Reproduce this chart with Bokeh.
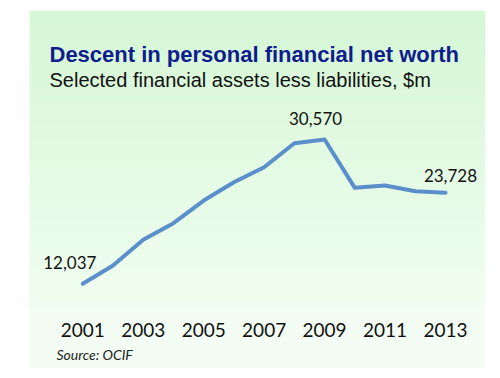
import numpy as np
from bokeh.plotting import figure
from bokeh.models import Range1d, FixedTicker, Label, Title, ColumnDataSource
from bokeh.core.properties import value
from bokeh.embed import file_html
from bokeh.resources import INLINE

# ---- data ----
years = [2001, 2002, 2003, 2004, 2005, 2006, 2007, 2008, 2009, 2010, 2011, 2012, 2013]
net_worth = [12037, 14390, 17690, 19820, 22730, 25080, 27010, 30090, 30570, 24360, 24660, 23930, 23728]
tick_years = [2001, 2003, 2005, 2007, 2009, 2011, 2013]
label_years = [2001, 2009, 2013]
label_values = [12037, 30570, 23728]
title_text = "Descent in personal financial net worth"
subtitle_text = "Selected financial assets less liabilities, $m"
source_text = "Source: OCIF"

# ---- layout ----
W, H = 456, 358
FRAME_H = 300
x_start, x_end = 1999.237, 2014.324
y_start, y_end = 8608, 47137
ppx = (x_end - x_start) / W           # data per px (x)
ppy = (y_end - y_start) / FRAME_H     # data per px (y)

def px_x(px):   # px from canvas left
    return x_start + px * ppx

def px_y(py):   # px from canvas top
    return y_end - py * ppy

p = figure(width=W, height=H, output_backend="svg", toolbar_location=None,
           x_range=Range1d(x_start, x_end), y_range=Range1d(y_start, y_end),
           y_axis_location=None, min_border_left=0, min_border_right=0,
           min_border_top=0, min_border_bottom=H - FRAME_H,
           margin=(10, 0, 0, 29))
p.outline_line_color = None
p.grid.visible = False
p.border_fill_color = "#f3fdf3"
p.background_fill_color = "#f3fdf3"

# gradient panel background
top = np.array([214, 247, 214], dtype=float)
bot = np.array([241, 254, 241], dtype=float)
n = 200
t = np.linspace(0, 1, n)[:, None]          # row 0 = bottom
cols = bot + (top - bot) * t
img = np.empty((n, 2), dtype=np.uint32)
view = img.view(dtype=np.uint8).reshape((n, 2, 4))
view[:, :, 0] = cols[:, 0:1].astype(np.uint8)
view[:, :, 1] = cols[:, 1:2].astype(np.uint8)
view[:, :, 2] = cols[:, 2:3].astype(np.uint8)
view[:, :, 3] = 255
p.image_rgba(image=[img], x=x_start, y=y_start, dw=x_end - x_start, dh=y_end - y_start)

# line
p.line(years, net_worth, line_color="#5b8fcb", line_width=4, line_join="round", line_cap="round")

# data labels
src = ColumnDataSource(dict(x=label_years, y=label_values,
                            txt=[f"{v:,}" for v in label_values]))
label_dx = [-13, -9, 5]
label_dy = [-21, -21, -17]
src.data["dx"] = label_dx
src.data["dy"] = label_dy
p.text(x="x", y="y", text="txt", source=src, x_offset="dx", y_offset="dy",
       text_font=value("Lato"), text_font_size="17px", text_color="#111111",
       text_align="center", text_baseline="middle")

# titles
p.add_layout(Label(x=px_x(20), y=px_y(44.3), text=title_text, text_font="Liberation Sans",
                   text_font_style="bold", text_font_size="22px", text_color="#0f1d8c",
                   text_baseline="alphabetic"))
p.add_layout(Label(x=px_x(20), y=px_y(69.5), text=subtitle_text, text_font="Liberation Sans",
                   text_font_size="20px", text_color="#111111", text_baseline="alphabetic"))

# axis
ax = p.xaxis[0]
ax.ticker = FixedTicker(ticks=tick_years)
ax.axis_line_color = None
ax.major_tick_line_color = None
ax.minor_tick_line_color = None
ax.major_label_text_font = "Lato"
ax.major_label_text_font_size = "19px"
ax.major_label_text_color = "#111111"
ax.major_label_standoff = 6

p.add_layout(Title(text=source_text, text_font="Lato", text_font_style="italic",
                   text_font_size="14px", text_color="#222222", offset=27,
                   align="left", standoff=8), "below")

open("out.html", "w").write(file_html(p, INLINE))
